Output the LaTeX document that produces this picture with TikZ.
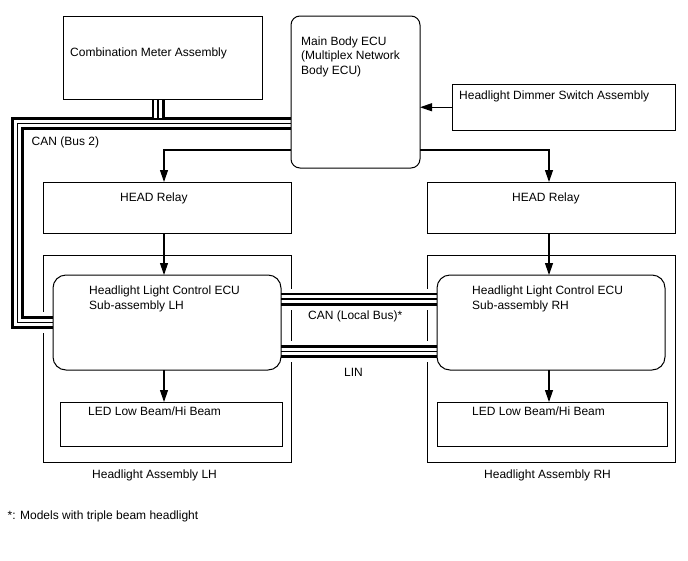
\documentclass[tikz,border=0pt]{standalone}
\usepackage{fontspec}
\setmainfont{Liberation Sans}
\usetikzlibrary{arrows.meta}
\pgfdeclarelayer{bg}
\pgfdeclarelayer{mid}
\pgfsetlayers{bg,mid,main}
\newcommand\busline[1]{%
  \draw[white,line width=21pt,line join=miter] #1;
  \draw[line width=13pt,line join=miter] #1;
  \draw[white,line width=7.5pt,line join=miter] #1;
  \draw[line width=1.3pt,line join=miter] #1;}
\newcommand\bustap[1]{%
  \draw[line width=13pt] #1;
  \draw[white,line width=7.5pt] #1;
  \draw[line width=1.3pt] #1;}
\begin{document}
\begin{tikzpicture}[x=1pt,y=-1pt,
  box/.style={draw,line width=1pt,anchor=north west,inner sep=0pt,outer sep=0pt},
  rbox/.style={box,rounded corners=#1},
  txt/.style={anchor=base west,inner sep=0pt,font=\fontsize{12}{14}\selectfont},
  arr/.style={line width=1.2pt,-{Triangle[length=12pt,width=8pt]}}]
\useasboundingbox (0,0) rectangle (688,560);
\begin{pgfonlayer}{bg}
\fill[white] (0,0) rectangle (688,560);
\end{pgfonlayer}

% boxes
\node[box,minimum width=199pt,minimum height=83pt] (meter) at (63,16) {};
\node[rbox=9pt,minimum width=129pt,minimum height=152pt] (body) at (291,16) {};
\node[box,minimum width=223pt,minimum height=46.5pt] (dimmer) at (452.5,84) {};
\node[box,minimum width=248pt,minimum height=51pt] (relayL) at (43,182) {};
\node[box,minimum width=248pt,minimum height=51pt] (relayR) at (427,182) {};
\begin{pgfonlayer}{bg}
\node[box,minimum width=248pt,minimum height=207pt] (assyL) at (43,255) {};
\node[box,minimum width=248pt,minimum height=207pt] (assyR) at (427,255) {};
\end{pgfonlayer}
\node[rbox=13pt,minimum width=228pt,minimum height=95pt] (ecuL) at (53,275) {};
\node[rbox=13pt,minimum width=228pt,minimum height=95pt] (ecuR) at (437,275) {};
\node[box,minimum width=222pt,minimum height=44pt] (ledL) at (60,402) {};
\node[box,minimum width=230pt,minimum height=44pt] (ledR) at (437,402) {};

% texts
\node[txt] (tMeter) at (70,56.5) {Combination Meter Assembly};
\node[txt] (tBody1) at (301,45) {Main Body ECU};
\node[txt] (tBody2) at (301,59.5) {(Multiplex Network};
\node[txt] (tBody3) at (301,74) {Body ECU)};
\node[txt] (tDim) at (459,99) {Headlight Dimmer Switch Assembly};
\node[txt] (tBus2) at (31.5,145) {CAN (Bus 2)};
\node[txt] (tRelL) at (120,201.5) {HEAD Relay};
\node[txt] (tRelR) at (512,201.5) {HEAD Relay};
\node[txt] (tEcuL1) at (89,294.5) {Headlight Light Control ECU};
\node[txt] (tEcuL2) at (89,309.5) {Sub-assembly LH};
\node[txt] (tEcuR1) at (472,294.5) {Headlight Light Control ECU};
\node[txt] (tEcuR2) at (472,309.5) {Sub-assembly RH};
\node[txt] (tCanL) at (308,319) {CAN (Local Bus)*};
\node[txt] (tLin) at (344,376) {LIN};
\node[txt] (tLedL) at (88,415.5) {LED Low Beam/Hi Beam};
\node[txt] (tLedR) at (472,415.5) {LED Low Beam/Hi Beam};
\node[txt] (tAsL) at (92,478.5) {Headlight Assembly LH};
\node[txt] (tAsR) at (484,478.5) {Headlight Assembly RH};
\node[txt] (tNote) at (7.5,519.5) {*: Models with triple beam headlight};

% arrows
\coordinate (jL) at (164,150);
\coordinate (jR) at (549,150);
\draw[arr] (body.west |- jL) -- (jL) -- (jL |- relayL.north);
\draw[arr] (body.east |- jR) -- (jR) -- (jR |- relayR.north);
\draw[arr] (dimmer.west) -- (dimmer.west -| body.east);
\draw[arr] (relayL.south -| jL) -- (ecuL.north -| jL);
\draw[arr] (relayR.south -| jR) -- (ecuR.north -| jR);
\draw[arr] (ecuL.south -| jL) -- (ledL.north -| jL);
\draw[arr] (ecuR.south -| jR) -- (ledR.north -| jR);

% buses
\coordinate (c1) at (17.5,123.5);
\coordinate (c2) at (17.5,322.5);
\coordinate (mtap) at (158,118);
\coordinate (yCan) at (0,299);
\coordinate (yLin) at (0,351.5);
\begin{pgfonlayer}{mid}
\busline{(body.west |- c1) -- (c1) -- (c2) -- (ecuL.west |- c2)}
\bustap{(meter.south -| mtap) -- (mtap)}
\busline{(ecuL.east |- yCan) -- (ecuR.west |- yCan)}
\busline{(ecuL.east |- yLin) -- (ecuR.west |- yLin)}
\end{pgfonlayer}
\end{tikzpicture}
\end{document}
